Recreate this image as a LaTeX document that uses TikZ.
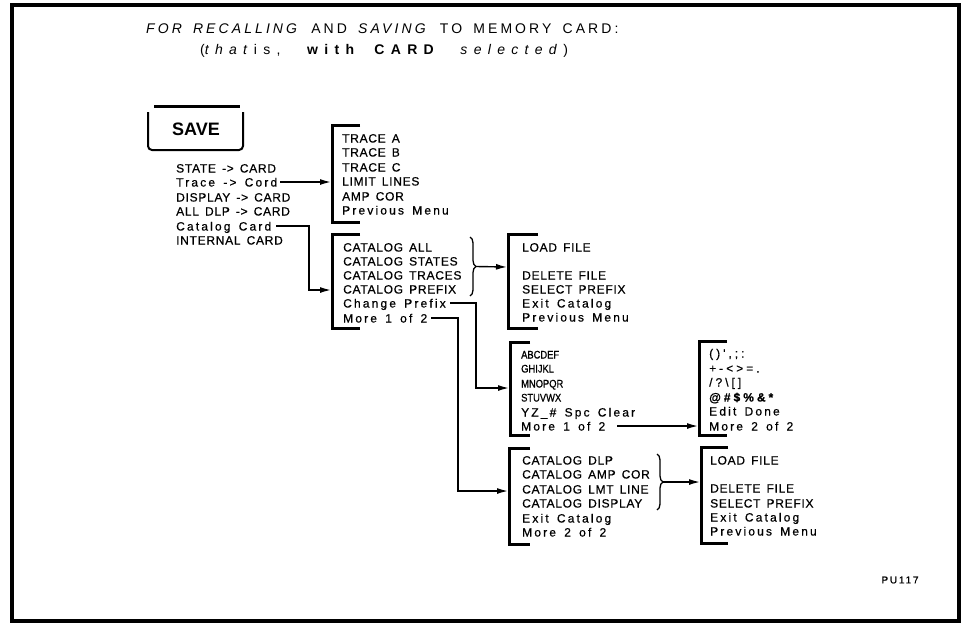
\documentclass[tikz,border=0pt]{standalone}
\usepackage{fontspec}
\setmainfont{Liberation Sans}
\newfontfamily\hpU[LetterSpace=6,WordSpace=1.5,FakeBold=0.6]{Liberation Sans}
\newfontfamily\hpL[LetterSpace=18,WordSpace=1.5,FakeBold=0.6]{Liberation Sans}
\newfontfamily\hpS[FakeStretch=0.85,FakeBold=0.8]{Liberation Sans}
\newfontfamily\hpY[LetterSpace=25,FakeBold=0.6]{Liberation Sans}
\newfontfamily\ttlA[LetterSpace=22,WordSpace=1.6]{Liberation Sans}
\newfontfamily\ttlB[LetterSpace=45,WordSpace=2]{Liberation Sans}
\usetikzlibrary{arrows.meta,decorations.pathreplacing}
\tikzset{
  item/.style={anchor=west, inner sep=0pt, text height=9pt, text depth=0pt, font=\hpU\fontsize{12}{12}\selectfont},
  itemL/.style={item, font=\hpL\fontsize{12}{12}\selectfont},
  itemS/.style={item, font=\hpS\fontsize{11}{12}\selectfont},
  itemY/.style={item, font=\hpY\fontsize{12}{12}\selectfont},
  bracketline/.style={line width=3pt},
  conn/.style={line width=1.4pt, -{Latex[length=11pt,width=6pt]}},
  bracelines/.style={line width=1.3pt, decorate, decoration={brace, amplitude=6pt}},
}
\begin{document}
\begin{tikzpicture}[x=1pt,y=-1pt]
\useasboundingbox (0,0) rectangle (966,624);
% frame
\draw[line width=4pt] (12,5) rectangle (959,621);
% title
\node[anchor=base west, inner sep=0pt] (title1) at (146,33.5) {\ttlA\fontsize{14}{14}\selectfont \textit{FOR RECALLING} AND \textit{SAVING} TO MEMORY CARD:};
\node[anchor=base west, inner sep=0pt] (title2) at (200,54) {\ttlB\fontsize{14}{14}\selectfont (\textit{that}is, \textbf{with CARD} \textit{selected})};
% SAVE key
\node[inner sep=0pt, font=\bfseries\fontsize{18}{18}\selectfont] (save) at (196,129) {SAVE};
\draw[line width=2pt, rounded corners=4pt] (148,112) -- (148,150) -- (243,150) -- (243,112);
\draw[line width=3pt] (154,106) -- (240,106);
% left menu
\node[item]  (state)   at (176,168) {STATE -> CARD};
\node[itemL] (trace)   at (176,182) {Trace -> Cord};
\node[item]  (display) at (176,197) {DISPLAY -> CARD};
\node[item]  (alldlp)  at (176,211) {ALL DLP -> CARD};
\node[itemL] (catcard) at (176,226) {Catalog Card};
\node[item]  (intcard) at (176,240) {INTERNAL CARD};
% box 1
\draw[bracketline] (360,125) -- (332,125) -- (332,222) -- (360,222);
\coordinate (b1in) at (331,182);
\node[item]  (tra) at (342,138) {TRACE A};
\node[item]  (trb) at (342,152) {TRACE B};
\node[item]  (trc) at (342,167) {TRACE C};
\node[item]  (lim) at (342,181) {LIMIT LINES};
\node[item]  (amp) at (342,196) {AMP COR};
\node[itemL] (prev1) at (342,210) {Previous Menu};
% box 2
\draw[bracketline] (360,234) -- (332,234) -- (332,328) -- (360,328);
\coordinate (b2in) at (331,290);
\node[item]  (catall) at (343,247) {CATALOG ALL};
\node[item]  (catst)  at (343,261) {CATALOG STATES};
\node[item]  (cattr)  at (343,275) {CATALOG TRACES};
\node[item]  (catpf)  at (343,289) {CATALOG PREFIX};
\node[itemL] (chgpf)  at (343,303) {Change Prefix};
\node[itemL] (more1)  at (343,318) {More 1 of 2};
% box 3
\draw[bracketline] (538,234) -- (508,234) -- (508,328) -- (538,328);
\coordinate (b3in) at (507,267);
\node[item]  (load1) at (522,247) {LOAD FILE};
\node[item]  (del1)  at (522,275) {DELETE FILE};
\node[item]  (sel1)  at (522,289) {SELECT PREFIX};
\node[itemL] (exit1) at (522,303) {Exit Catalog};
\node[itemL] (prev3) at (522,317) {Previous Menu};
% box 4
\draw[bracketline] (530,342) -- (510,342) -- (510,435) -- (530,435);
\coordinate (b4in) at (509,388);
\node[itemS] (abc) at (521,354) {ABCDEF};
\node[itemS] (ghi) at (521,368) {GHIJKL};
\node[itemS] (mno) at (521,383) {MNOPQR};
\node[itemS] (stu) at (521,397) {STUVWX};
\node[itemL] (yz)  at (521,412) {YZ\_\# Spc Clear};
\node[itemL] (more4) at (521,426) {More 1 of 2};
% box 5
\draw[bracketline] (530,448) -- (509,448) -- (509,544) -- (530,544);
\coordinate (b5in) at (508,491);
\node[item]  (catdlp) at (522,460) {CATALOG DLP};
\node[item]  (catamp) at (522,474) {CATALOG AMP COR};
\node[item]  (catlmt) at (522,489) {CATALOG LMT LINE};
\node[item]  (catdis) at (522,503) {CATALOG DISPLAY};
\node[itemL] (exit5)  at (522,518) {Exit Catalog};
\node[itemL] (more5)  at (522,532) {More 2 of 2};
% box 6
\draw[bracketline] (728,447) -- (701,447) -- (701,543) -- (728,543);
\coordinate (b6in) at (700,482);
\node[item]  (load6) at (710,460) {LOAD FILE};
\node[item]  (del6)  at (710,488) {DELETE FILE};
\node[item]  (sel6)  at (710,503) {SELECT PREFIX};
\node[itemL] (exit6) at (710,517) {Exit Catalog};
\node[itemL] (prev6) at (710,531) {Previous Menu};
% box 7
\draw[bracketline] (727,341) -- (699,341) -- (699,435) -- (727,435);
\coordinate (b7in) at (698,426);
\node[itemY] (s1) at (709,353) {()',;:};
\node[itemY] (s2) at (709,368) {+-<>=.};
\node[itemY] (s3) at (709,382) {/?\textbackslash[]};
\node[itemY] (s4) at (709,397) {\bfseries @\#\$\%\&*};
\node[itemL] (edit) at (709,411) {Edit Done};
\node[itemL] (more7) at (709,426) {More 2 of 2};
% braces
\draw[bracelines] (470,237) -- (470,296);
\coordinate (br1) at (476,266.5);
\draw[bracelines] (657,454) -- (657,510);
\coordinate (br2) at (663,482);
% junctions
\coordinate (j1) at (309,290);
\coordinate (j2) at (476,388);
\coordinate (j3) at (458,491);
% connectors
\draw[conn] ([xshift=3pt]trace.east) -- (trace.east -| b1in);
\draw[conn] ([xshift=5pt]catcard.east) -| (j1) -- (b2in);
\draw[conn] (br1) -- (b3in);
\draw[conn] ([xshift=4pt]chgpf.east) -| (j2) -- (b4in);
\draw[conn] ([xshift=4pt]more1.east) -| (j3) -- (b5in);
\draw[conn] ([xshift=12pt]more4.east) -- (more4.east -| b7in);
\draw[conn] (br2) -- (b6in);
% id
\node[inner sep=0pt, font=\hpL\fontsize{10}{10}\selectfont] (pu) at (900,580) {PU117};
\end{tikzpicture}
\end{document}
